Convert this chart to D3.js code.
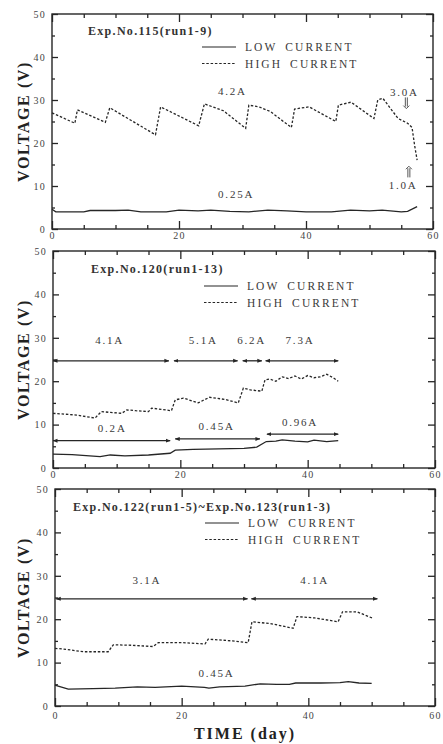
<!DOCTYPE html>
<html><head><meta charset="utf-8">
<script src="https://cdn.jsdelivr.net/npm/d3@7"></script>
<style>
body{margin:0;background:#fff}
svg{display:block}
</style></head>
<body><svg id="c" width="443" height="744"></svg>
<script>
// ---------- data ----------
const titles = ["Exp.No.115(run1-9)", "Exp.No.120(run1-13)", "Exp.No.122(run1-5)~Exp.No.123(run1-3)"];
const legendLabels = ["LOW CURRENT", "HIGH CURRENT"];
const xTickValues = [0, 20, 40, 60];
const yTickValues = [0, 10, 20, 30, 40, 50];
const xLabel = "TIME  (day)";
const yLabel = "VOLTAGE  (V)";

// Exp.No.115
const high115 = [[0,27.0],[3.6,24.6],[4.0,27.7],[8.4,24.8],[9.1,28.2],[16.3,21.9],[17.1,28.4],[23.1,24.0],[24.0,29.1],[27,27.5],[30.5,23.4],[31.0,28.8],[32.6,28.4],[34.4,27.3],[37.7,23.6],[38.2,27.9],[40.5,28.4],[44.7,25.0],[45.1,28.8],[47.1,29.5],[50.7,25.7],[51.3,30.0],[52.1,30.4],[54.5,25.7],[56.0,24.6],[56.7,23.6],[57.1,19.5],[57.5,16.0]];
const low115 = [[0,4.6],[0.6,4.0],[5,4.0],[6,4.3],[10,4.3],[12,4.4],[14,4.0],[18,4.0],[20,4.4],[23,4.2],[25,4.4],[28,4.1],[31,4.0],[34,4.4],[37,4.2],[40,4.0],[44,4.0],[47,4.4],[50,4.2],[52,4.4],[55,4.0],[56,4.1],[57.5,5.2]];
const labels115 = [{t:"4.2A",d:28.4,v:32.0},{t:"0.25A",d:29.0,v:8.1},{t:"3.0A",d:55.5,v:31.9},{t:"1.0A",d:55.3,v:10.2}];
const smallArrows115 = [{d:55.8,v0:30.6,v1:28.0},{d:56.2,v0:12.0,v1:14.6}];
const spans115 = [];

// Exp.No.120
const high120 = [[0,12.6],[3.7,12.2],[6.6,11.5],[7.6,13.0],[9,12.8],[10.8,12.6],[11.6,13.4],[13,13.2],[15,13.0],[15.5,13.8],[17,13.5],[18.6,13.2],[19.2,15.7],[20.5,16.1],[22.8,15.0],[24.6,16.3],[27,15.8],[29.1,15.0],[29.9,18.4],[31,18.0],[32.8,17.7],[33.3,20.3],[34,20.5],[35,20.0],[36,21.0],[37,20.6],[38,21.2],[39,20.5],[40,21.3],[41,20.8],[42,21.0],[43,21.6],[44,20.8],[44.8,20.0]];
const low120 = [[0,3.2],[3,3.1],[7.4,2.6],[9,3.0],[11.3,2.8],[15,3.0],[18.4,3.4],[19.2,4.1],[22,4.3],[26,4.4],[30,4.5],[32,4.8],[33.5,6.1],[35,6.2],[36,6.5],[38,6.2],[40,6.0],[41,6.4],[43,6.1],[44.8,6.3]];
const labels120 = [{t:"4.1A",d:8.9,v:29.5},{t:"5.1A",d:23.6,v:29.5},{t:"6.2A",d:31.2,v:29.5},{t:"7.3A",d:38.8,v:29.5},{t:"0.2A",d:9.3,v:9.3},{t:"0.45A",d:25.7,v:9.6},{t:"0.96A",d:38.8,v:10.6}];
const spans120 = [{d0:0,d1:18.2,v:24.7},{d0:19.0,d1:29.0,v:24.7},{d0:29.8,d1:32.8,v:24.7},{d0:33.4,d1:44.8,v:24.7},{d0:0,d1:18.4,v:6.3},{d0:19.2,d1:32.5,v:6.7},{d0:33.6,d1:44.8,v:7.8}];
const smallArrows120 = [];

// Exp.No.122 ~ 123
const high122 = [[0,13.3],[2,13.0],[4.5,12.5],[8.4,12.5],[9.2,14.1],[12,14.0],[15.5,13.7],[16.3,14.6],[20,14.6],[23.7,14.3],[24.2,15.4],[28,15.0],[30.5,14.6],[31.1,19.4],[34,19.0],[37.6,17.9],[38.2,20.6],[41,20.3],[44.7,19.4],[45.4,21.7],[47.7,21.7],[50.2,20.2]];
const low122 = [[0,4.8],[0.5,4.6],[2.1,3.9],[6,4.0],[9.5,4.1],[13,4.4],[15.8,4.3],[20,4.6],[23.6,4.3],[24.3,4.1],[26,4.4],[30,4.6],[32.4,5.1],[35,5.0],[37,5.0],[38,5.3],[42,5.3],[45,5.4],[46.3,5.6],[48,5.3],[50,5.2]];
const labels122 = [{t:"3.1A",d:14.5,v:29.0},{t:"4.1A",d:41.0,v:29.0},{t:"0.45A",d:25.5,v:7.5}];
const spans122 = [{d0:0.2,d1:30.4,v:24.7},{d0:31.0,d1:50.9,v:24.7}];
const smallArrows122 = [];

// ---------- layout ----------
const panels = [
  {box:{l:52,r:433,t:14,b:229}, title:titles[0], tx:88, ty:31, lg:{x:202,y:47}, high:high115, low:low115, labels:labels115, spans:spans115, small:smallArrows115},
  {box:{l:53,r:435,t:251,b:468}, title:titles[1], tx:91, ty:269, lg:{x:204,y:286}, high:high120, low:low120, labels:labels120, spans:spans120, small:smallArrows120},
  {box:{l:55,r:435,t:489,b:706}, title:titles[2], tx:73, ty:507, lg:{x:205,y:523}, high:high122, low:low122, labels:labels122, spans:spans122, small:smallArrows122}
];

const FONT = "'Liberation Serif', 'Times New Roman', 'DejaVu Serif', serif";
const svg = d3.select("#c");
const ink = "#262626";

const defs = svg.append("defs");
defs.append("marker").attr("id","ah").attr("viewBox","0 0 10 10").attr("refX",9).attr("refY",5)
  .attr("markerWidth",5).attr("markerHeight",5).attr("orient","auto-start-reverse").attr("markerUnits","userSpaceOnUse")
  .append("path").attr("d","M0,1 L10,5 L0,9 Z").attr("fill",ink);

const minorX = d3.range(5,60,5).filter(d=>d%20!==0);
const minorY = d3.range(5,50,10);

panels.forEach((p,i)=>{
  const {l,r,t,b} = p.box;
  const x = d3.scaleLinear().domain([0,60]).range([l,r]);
  const y = d3.scaleLinear().domain([0,50]).range([b,t]);
  const g = svg.append("g");

  g.append("rect").attr("x",l).attr("y",t).attr("width",r-l).attr("height",b-t)
    .attr("fill","none").attr("stroke",ink).attr("stroke-width",1.4);

  const styleAxis = sel => { sel.select(".domain").remove(); sel.attr("font-family",FONT).attr("font-size",10);
    sel.selectAll("line").attr("stroke",ink).attr("stroke-width",1.3);
    sel.selectAll("text").attr("fill","#444").style("letter-spacing","1.2px"); };

  g.append("g").attr("transform",`translate(${l},0)`)
    .call(d3.axisLeft(y).tickValues(yTickValues).tickSizeInner(-6).tickSizeOuter(0).tickPadding(6).tickFormat(d3.format("d")))
    .call(styleAxis);
  g.append("g").attr("transform",`translate(${l},0)`)
    .call(d3.axisLeft(y).tickValues(minorY).tickSizeInner(-3).tickSizeOuter(0).tickFormat("")).call(styleAxis);
  g.append("g").attr("transform",`translate(${r},0)`)
    .call(d3.axisRight(y).tickValues(yTickValues).tickSizeInner(-7).tickSizeOuter(0).tickFormat("")).call(styleAxis);
  g.append("g").attr("transform",`translate(${r},0)`)
    .call(d3.axisRight(y).tickValues(minorY).tickSizeInner(-3).tickSizeOuter(0).tickFormat("")).call(styleAxis);
  g.append("g").attr("transform",`translate(0,${b})`)
    .call(d3.axisBottom(x).tickValues(xTickValues).tickSizeInner(-8).tickSizeOuter(0).tickPadding(i===2?6:3).tickFormat(d3.format("d")))
    .call(styleAxis);
  g.append("g").attr("transform",`translate(0,${b})`)
    .call(d3.axisBottom(x).tickValues(minorX).tickSizeInner(-4).tickSizeOuter(0).tickFormat("")).call(styleAxis);
  g.append("g").attr("transform",`translate(0,${t})`)
    .call(d3.axisTop(x).tickValues(xTickValues).tickSizeInner(-8).tickSizeOuter(0).tickFormat("")).call(styleAxis);
  g.append("g").attr("transform",`translate(0,${t})`)
    .call(d3.axisTop(x).tickValues(minorX).tickSizeInner(-4).tickSizeOuter(0).tickFormat("")).call(styleAxis);

  g.append("text").attr("transform",`translate(23,${(t+b)/2}) rotate(-90)`)
    .attr("text-anchor","middle").attr("dominant-baseline","central")
    .style("font-size","16px").style("font-weight","bold").style("letter-spacing","1.6px").attr("fill","#222")
    .text(yLabel);

  g.append("text").attr("x",p.tx).attr("y",p.ty).attr("dominant-baseline","central")
    .style("font-size","12px").style("font-weight","bold").style("letter-spacing","1.3px").attr("fill","#333")
    .text(p.title);

  const line = d3.line().x(d=>d[0]).y(d=>d[1]);
  [0,1].forEach(k=>{
    const ly = p.lg.y + k*16.5;
    g.append("path").attr("d",line([[p.lg.x,ly],[p.lg.x+34,ly]]))
      .attr("stroke",ink).attr("stroke-width",1.2).attr("fill","none")
      .attr("stroke-dasharray",k===1?"2.5,1.8":null);
    g.append("text").attr("x",p.lg.x+43).attr("y",ly).attr("dominant-baseline","central")
      .style("font-size","11.5px").style("letter-spacing","2.1px").style("word-spacing","3px").attr("fill","#3a3a3a")
      .text(legendLabels[k]);
  });

  const sline = d3.line().x(d=>x(d[0])).y(d=>y(d[1]));
  g.append("path").attr("d",sline(p.low)).attr("fill","none").attr("stroke",ink).attr("stroke-width",1.3);
  g.append("path").attr("d",sline(p.high)).attr("fill","none").attr("stroke",ink).attr("stroke-width",1.3)
    .attr("stroke-dasharray","2.5,1.8");

  p.spans.forEach(s=>{
    g.append("path").attr("d",line([[x(s.d0),y(s.v)],[x(s.d1),y(s.v)]]))
      .attr("stroke",ink).attr("stroke-width",1.3).attr("fill","none")
      .attr("marker-start","url(#ah)").attr("marker-end","url(#ah)");
  });

  p.small.forEach(s=>{
    const x0 = x(s.d), y0 = y(s.v0), y1 = y(s.v1);
    const dir = y1 > y0 ? 1 : -1;
    g.append("path").attr("d",`M${x0-1},${y0} L${x0-1},${y1-dir*2} M${x0+1},${y0} L${x0+1},${y1-dir*2} M${x0-3},${y1-dir*3} L${x0},${y1} L${x0+3},${y1-dir*3}`)
      .attr("stroke","#444").attr("stroke-width",0.9).attr("fill","none");
  });

  p.labels.forEach(a=>{
    g.append("text").attr("x",x(a.d)).attr("y",y(a.v)).attr("text-anchor","middle").attr("dominant-baseline","central")
      .style("font-size","11px").style("letter-spacing","1.8px").attr("fill","#3a3a3a").text(a.t);
  });
});

svg.append("text").attr("x",245).attr("y",733).attr("text-anchor","middle").attr("dominant-baseline","central")
  .style("font-size","16px").style("font-weight","bold").style("letter-spacing","2px").attr("fill","#222")
  .text(xLabel);

svg.selectAll("text").style("font-family", FONT);
</script>
</body></html>
